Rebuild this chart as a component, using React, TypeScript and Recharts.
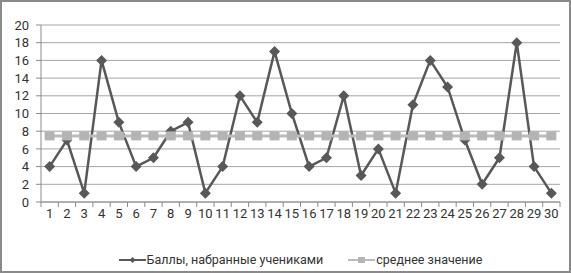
import React from 'react';
import {
  ComposedChart,
  Line,
  XAxis,
  YAxis,
  CartesianGrid,
  Legend,
} from 'recharts';

const students = [
  '1', '2', '3', '4', '5', '6', '7', '8', '9', '10',
  '11', '12', '13', '14', '15', '16', '17', '18', '19', '20',
  '21', '22', '23', '24', '25', '26', '27', '28', '29', '30',
];
const scores = [
  4, 7, 1, 16, 9, 4, 5, 8, 9, 1,
  4, 12, 9, 17, 10, 4, 5, 12, 3, 6,
  1, 11, 16, 13, 7, 2, 5, 18, 4, 1,
];
const average = [
  7.47, 7.47, 7.47, 7.47, 7.47, 7.47, 7.47, 7.47, 7.47, 7.47,
  7.47, 7.47, 7.47, 7.47, 7.47, 7.47, 7.47, 7.47, 7.47, 7.47,
  7.47, 7.47, 7.47, 7.47, 7.47, 7.47, 7.47, 7.47, 7.47, 7.47,
];
const yTicks = [0, 2, 4, 6, 8, 10, 12, 14, 16, 18, 20];

const scoreName = 'Баллы, набранные учениками';
const avgName = 'среднее значение';

const data = students.map((s, i) => ({ student: s, score: scores[i], avg: average[i] }));

const FONT = 'Roboto, sans-serif';
const DARK = '#585858';
const LIGHT = '#bcbcbc';
const AXIS = '#8c8c8c';

const Diamond = (props: any) => {
  const { cx, cy } = props;
  if (cx == null || cy == null) return null;
  const r = 5.5;
  return (
    <polygon
      points={`${cx},${cy - r} ${cx + r},${cy} ${cx},${cy + r} ${cx - r},${cy}`}
      fill={DARK}
    />
  );
};

const Square = (props: any) => {
  const { cx, cy } = props;
  if (cx == null || cy == null) return null;
  return <rect x={cx - 5} y={cy - 4.5} width={10} height={9} fill="#b4b4b4" />;
};

const XTick = (props: any) => {
  const { x, y, payload, index } = props;
  const off = payload.offset || 0;
  const left = payload.coordinate - off;
  const right = payload.coordinate + off;
  return (
    <g>
      <line x1={left} y1={y - 8} x2={left} y2={y - 3} stroke={AXIS} />
      {index === students.length - 1 && (
        <line x1={right} y1={y - 8} x2={right} y2={y - 3} stroke={AXIS} />
      )}
      <text x={x} y={y + 8} textAnchor="middle" fontSize={13} fill="#333" fontFamily={FONT}>
        {payload.value}
      </text>
    </g>
  );
};

const LegendContent = () => (
  <div style={{ display: 'flex', justifyContent: 'center', fontFamily: FONT, fontSize: 12.5, color: '#333' }}>
    <div style={{ display: 'flex', alignItems: 'center', marginRight: 25 }}>
      <svg width={27} height={10}>
        <line x1={0} y1={5} x2={27} y2={5} stroke={DARK} strokeWidth={2} />
        <polygon points="13.5,2 16.5,5 13.5,8 10.5,5" fill={DARK} />
      </svg>
      <span style={{ marginLeft: 1 }}>{scoreName}</span>
    </div>
    <div style={{ display: 'flex', alignItems: 'center' }}>
      <svg width={27} height={10}>
        <line x1={0} y1={5} x2={27} y2={5} stroke={LIGHT} strokeWidth={2} />
        <rect x={10} y={2} width={7} height={6} fill="#b4b4b4" />
      </svg>
      <span style={{ marginLeft: 1 }}>{avgName}</span>
    </div>
  </div>
);

export default function App() {
  return (
    <div
      style={{
        position: 'absolute',
        left: 0,
        top: 0,
        width: 571,
        height: 273,
        boxSizing: 'border-box',
        border: '2px solid #8a8a8a',
        background: '#fff',
      }}
    >
      <div style={{ position: 'absolute', left: -2, top: -2 }}>
        <ComposedChart
          width={571}
          height={273}
          data={data}
          margin={{ top: 25, right: 11, bottom: 31, left: 0 }}
        >
          <CartesianGrid vertical={false} stroke="#a6a6a6" />
          <XAxis
            dataKey="student"
            scale="band"
            axisLine={{ stroke: AXIS }}
            tickLine={false}
            tick={<XTick />}
            interval={0}
            height={25}
          />
          <YAxis
            domain={[0, 20]}
            ticks={yTicks}
            width={41}
            axisLine={{ stroke: AXIS }}
            tickLine={{ stroke: AXIS }}
            tickSize={5}
            tickMargin={7}
            tick={{ fontSize: 13, fill: '#333', fontFamily: FONT }}
            interval={0}
          />
          <Line
            dataKey="score"
            name={scoreName}
            stroke={DARK}
            strokeWidth={2.5}
            dot={<Diamond />}
            isAnimationActive={false}
          />
          <Line
            dataKey="avg"
            name={avgName}
            stroke={LIGHT}
            strokeWidth={3}
            dot={<Square />}
            isAnimationActive={false}
          />
          <Legend
            verticalAlign="bottom"
            content={<LegendContent />}
            wrapperStyle={{ bottom: 6, left: 41, width: 519 }}
          />
        </ComposedChart>
      </div>
    </div>
  );
}
